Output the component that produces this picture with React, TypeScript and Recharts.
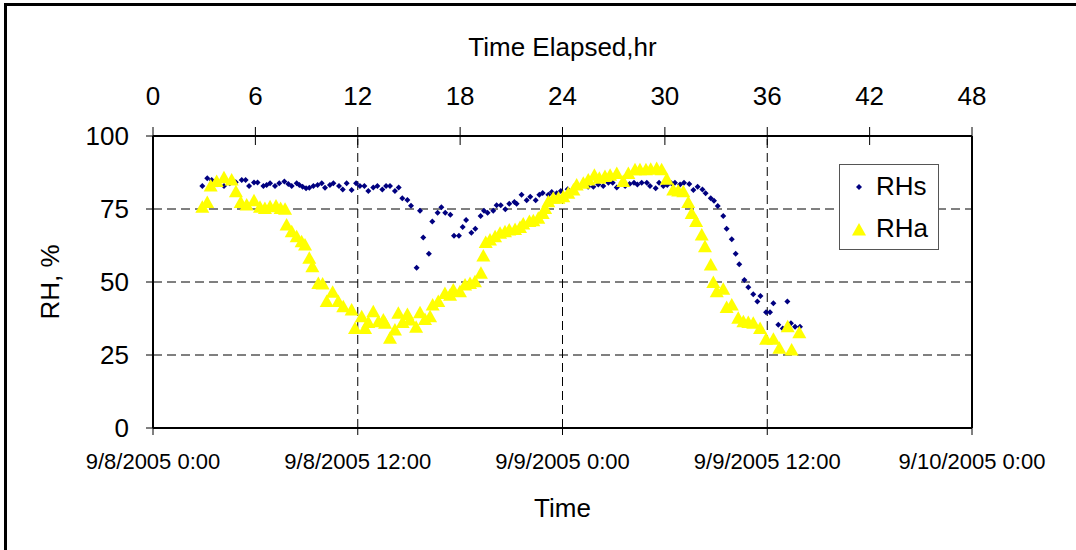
import React from 'react';
import { ScatterChart, Scatter, XAxis, YAxis, ReferenceLine, Legend, Label } from 'recharts';

const FONT = '"Liberation Sans", Arial, sans-serif';

// axis ticks and labels
const elapsedTicks = [0, 6, 12, 18, 24, 30, 36, 42, 48];
const dateTicks = [0, 12, 24, 36, 48];
const dateLabels = ['9/8/2005 0:00', '9/8/2005 12:00', '9/9/2005 0:00', '9/9/2005 12:00', '9/10/2005 0:00'];
const rhTicks = [0, 25, 50, 75, 100];
const gridHours = [12, 24, 36];
const gridRh = [25, 50, 75];
const seriesNames = ['RHs', 'RHa'];

// RHs series (hours elapsed, %)
const rhsHours = [
  2.89, 3.18, 3.44, 3.75, 4.16, 4.5, 4.85, 5.2, 5.43, 5.63, 5.92, 6.13, 6.47, 6.66, 6.86, 7.15,
  7.4, 7.7, 7.93, 8.13, 8.42, 8.58, 8.77, 8.97, 9.16, 9.4, 9.65, 9.89, 10.08, 10.37, 10.57, 10.9,
  11.12, 11.35, 11.64, 11.9, 12.13, 12.39, 12.62, 12.91, 13.15, 13.44, 13.66, 13.89, 14.18, 14.4,
  14.61, 14.91, 15.12, 15.45, 15.65, 15.84, 16.17, 16.37, 16.68, 16.9, 17.13, 17.43, 17.64, 17.93,
  18.15, 18.35, 18.66, 18.89, 19.2, 19.4, 19.61, 19.94, 20.14, 20.38, 20.65, 20.88, 21.18, 21.31,
  21.6, 21.9, 22.11, 22.43, 22.64, 22.84, 23.17, 23.37, 23.66, 23.9, 24.3, 24.7, 25.1, 25.5,
  25.81, 26.1, 26.39, 26.69, 26.94, 27.18, 27.47, 27.67, 27.93, 28.19, 28.39, 28.64, 28.94, 29.13,
  29.46, 29.66, 29.91, 30.14, 30.38, 30.59, 30.89, 31.12, 31.43, 31.67, 31.92, 32.2, 32.39, 32.69,
  32.88, 33.1, 33.42, 33.62, 33.92, 34.15, 34.36, 34.66, 34.89, 35.18, 35.42, 35.6, 35.93, 36.16,
  36.36, 36.65, 36.91, 37.18, 37.39, 37.63, 37.92,
];
const rhsValues = [
  82.9, 85.5, 84.9, 83.5, 82.9, 83.8, 84.2, 84.9, 84.9, 82.9, 84.1, 84.1, 82.9, 83.2, 83.8, 82.9,
  83.8, 84.4, 83.6, 82.9, 83.8, 83.2, 82.6, 82.1, 82.3, 82.9, 83.2, 83.8, 82.3, 83.2, 83.8, 82.9,
  81.7, 83.8, 81.5, 83.8, 82.9, 82.9, 81.2, 82.4, 82.9, 81.7, 82.9, 82.9, 81.2, 82.4,
  78.7, 78.1, 76.1, 54.9, 74.4, 65.2, 59.7, 70.7, 73.7, 75.6, 73.7, 73.0, 65.8, 65.8,
  68.8, 71.2, 66.9, 68.2, 72.6, 74.4, 73.7, 74.4, 76.3, 76.3, 74.9, 76.8, 77.4, 76.8,
  79.9, 78.0, 79.2, 78.0, 79.9, 80.5, 79.9, 80.8, 80.4, 81.2, 81.8, 82.4, 83.0, 82.6,
  82.6, 83.4, 82.9, 84.0, 84.0, 82.4, 84.0, 82.9, 83.6, 84.0, 83.4, 84.0, 84.0, 82.9,
  82.1, 84.0, 82.9, 83.2, 83.8, 84.0, 83.4, 84.0, 83.6, 81.5, 82.6, 81.7, 80.4, 78.7,
  77.8, 76.0, 72.6, 68.2, 64.6, 59.7, 56.1, 50.7, 48.2, 45.8, 43.3, 45.2, 39.6, 39.6,
  42.7, 35.4, 34.1, 43.3, 35.9, 34.7, 34.7,
];

// RHa series (hours elapsed, %)
const rhaHours = [
  2.89, 3.18, 3.38, 3.73, 4.16, 4.61, 4.86, 5.14, 5.49, 5.92, 6.27, 6.56, 6.86, 7.21, 7.48, 7.74,
  7.83, 8.13, 8.42, 8.71, 8.91, 9.16, 9.34, 9.69, 9.94, 10.18, 10.53, 10.86, 11.15, 11.64, 11.84,
  12.23, 12.43, 12.62, 12.91, 13.21, 13.5, 13.6, 13.89, 14.18, 14.38, 14.63, 14.91, 15.06, 15.42,
  15.65, 15.94, 16.24, 16.39, 16.72, 17.11, 17.41, 17.6, 17.99, 18.29, 18.58, 18.87, 19.22, 19.36,
  19.5, 19.75, 20.05, 20.34, 20.63, 20.88, 21.22, 21.51, 21.7, 22.06, 22.29, 22.58, 22.84, 22.98,
  23.17, 23.46, 23.76, 24.05, 24.34, 24.64, 24.83, 25.22, 25.51, 25.87, 26.16, 26.49, 26.79, 27.18,
  27.56, 27.86, 28.25, 28.54, 28.89, 29.17, 29.52, 29.81, 30.11, 30.49, 30.78, 31.08, 31.37, 31.57,
  31.83, 32.16, 32.35, 32.69, 32.84, 33.04, 33.42, 33.62, 33.92, 34.3, 34.6, 34.89, 35.18, 35.58,
  35.93, 36.36, 36.71, 37.2, 37.43, 37.88,
];
const rhaValues = [
  75.6, 77.2, 82.9, 84.4, 85.7, 84.9, 80.9, 77.2, 76.4, 77.8, 75.6, 75.2, 75.8, 76.0, 75.2, 74.9,
  69.5, 67.2, 65.5, 63.8, 62.7, 58.1, 55.2, 49.5, 49.3, 43.3, 46.5, 43.3, 41.5, 40.4, 34.1,
  38.1, 34.1, 36.1, 39.8, 36.4, 37.0, 35.9, 30.7, 33.6, 39.3, 36.1, 38.9, 37.0, 34.5,
  39.5, 37.2, 38.1, 42.1, 43.3, 46.1, 45.5, 47.3, 46.7, 49.0, 49.5, 50.1, 53.0, 58.9,
  63.5, 64.4, 65.5, 66.7, 67.2, 67.8, 68.0, 68.7, 69.9, 70.7, 71.0, 71.8, 73.5, 75.2,
  77.5, 78.7, 78.7, 79.2, 80.4, 81.5, 83.2, 83.8, 84.9, 86.6, 85.5, 86.1, 86.6, 87.2,
  84.4, 87.2, 88.4, 88.4, 88.4, 88.6, 88.9, 88.4, 85.2, 81.5, 81.2, 80.9, 77.2, 73.5,
  70.7, 66.1, 62.1, 55.8, 49.8, 46.7, 47.5, 41.3, 42.1, 37.6, 36.4, 36.1, 35.9, 34.1,
  30.4, 30.4, 27.3, 34.7, 26.7, 32.6,
];

const rhsData = rhsHours.map((h, i) => ({ h, v: rhsValues[i] }));
const rhaData = rhaHours.map((h, i) => ({ h, v: rhaValues[i] }));

const NAVY = '#000080';
const YELLOW = '#FFFF00';

const Diamond = (props: any) => {
  const { cx, cy } = props;
  const r = 3;
  return <polygon points={`${cx},${cy - r} ${cx + r},${cy} ${cx},${cy + r} ${cx - r},${cy}`} fill={NAVY} />;
};

const Triangle = (props: any) => {
  const { cx, cy } = props;
  return <polygon points={`${cx},${cy - 7} ${cx + 7},${cy + 5.5} ${cx - 7},${cy + 5.5}`} fill={YELLOW} />;
};

// top axis: label plus a tick that crosses into the plot
const TOP_TICK = 9;
const TOP_MARGIN = 22;
const TopTick = (props: any) => {
  const { x, y, payload } = props;
  const axisY = y + TOP_TICK + TOP_MARGIN;
  return (
    <g>
      <line x1={x} x2={x} y1={axisY} y2={axisY + TOP_TICK} stroke="#000" />
      <text x={x} y={y} textAnchor="middle" fontSize={26} fontFamily={FONT} fill="#000">
        {payload.value}
      </text>
    </g>
  );
};

const LegendBox = (props: any) => {
  const payload = [...(props.payload || [])].sort(
    (a: any, b: any) => seriesNames.indexOf(a.value) - seriesNames.indexOf(b.value),
  );
  return (
    <div
      style={{
        width: 98,
        height: 84,
        border: '1px solid #555',
        background: '#fff',
        fontFamily: FONT,
        fontSize: 26,
        color: '#000',
      }}
    >
      {payload.map((entry: any) => (
        <div key={entry.value} style={{ display: 'flex', alignItems: 'center', height: 42 }}>
          <svg width={36} height={42}>
            {entry.value === 'RHs' ? <Diamond cx={19} cy={22} /> : <Triangle cx={19} cy={23} />}
          </svg>
          <span>{entry.value}</span>
        </div>
      ))}
    </div>
  );
};

const YTitle = (props: any) => {
  const { viewBox } = props;
  const x = viewBox.x + 50;
  const y = viewBox.y + viewBox.height / 2;
  return (
    <text
      x={x}
      y={y}
      transform={`rotate(-90, ${x}, ${y})`}
      textAnchor="middle"
      dominantBaseline="central"
      fontSize={26}
      fontFamily={FONT}
      fill="#000"
    >
      RH, %
    </text>
  );
};

export default function App() {
  return (
    <div style={{ position: 'absolute', left: 0, top: 0, width: 1076, height: 550, overflow: 'hidden', background: '#fff' }}>
      <div
        style={{
          position: 'absolute',
          left: 4,
          top: 3,
          width: 1200,
          height: 700,
          borderTop: '3px solid #000',
          borderLeft: '3px solid #000',
        }}
      />
      <div style={{ position: 'absolute', left: 0, top: 0 }}>
        <ScatterChart width={1076} height={550} margin={{ top: 0, right: 104, bottom: 0, left: 0 }}>
          <XAxis
            xAxisId="top"
            orientation="top"
            type="number"
            dataKey="h"
            domain={[0, 48]}
            ticks={elapsedTicks}
            height={136}
            allowDataOverflow
            axisLine={{ stroke: '#000', strokeWidth: 2 }}
            tickLine={{ stroke: '#000' }}
            tickSize={TOP_TICK}
            tickMargin={TOP_MARGIN}
            tick={<TopTick />}
          >
            <Label value="Time Elapsed,hr" position="insideTop" offset={38} fontSize={26} fontFamily={FONT} fill="#000" />
          </XAxis>
          <XAxis
            xAxisId="bottom"
            orientation="bottom"
            type="number"
            dataKey="h"
            domain={[0, 48]}
            ticks={dateTicks}
            height={122}
            allowDataOverflow
            tickFormatter={(v: number) => dateLabels[dateTicks.indexOf(v)]}
            axisLine={{ stroke: '#000', strokeWidth: 2 }}
            tickLine={{ stroke: '#000' }}
            tickSize={7}
            tickMargin={18}
            tick={{ fontSize: 22, fontFamily: FONT, fill: '#000' }}
            interval={0}
          >
            <Label value="Time" position="insideBottom" offset={33} fontSize={26} fontFamily={FONT} fill="#000" />
          </XAxis>
          <YAxis
            type="number"
            dataKey="v"
            domain={[0, 100]}
            ticks={rhTicks}
            width={153}
            interval={0}
            axisLine={{ stroke: '#000', strokeWidth: 2 }}
            tickLine={{ stroke: '#000' }}
            tickSize={7}
            tickMargin={17}
            tick={{ fontSize: 26, fontFamily: FONT, fill: '#000' }}
          >
            <Label content={<YTitle />} />
          </YAxis>
          {gridRh.map((v) => (
            <ReferenceLine key={`y${v}`} xAxisId="bottom" y={v} stroke="#000" strokeDasharray="9 5" />
          ))}
          {gridHours.map((h) => (
            <ReferenceLine key={`x${h}`} xAxisId="bottom" x={h} stroke="#000" strokeDasharray="9 5" />
          ))}
          <ReferenceLine xAxisId="bottom" x={48} stroke="#000" strokeWidth={2} />
          <Legend
            layout="vertical"
            align="center"
            verticalAlign="middle"
            content={<LegendBox />}
            wrapperStyle={{ left: 839, top: 164, width: 100 }}
          />
          <Scatter name="RHs" xAxisId="top" data={rhsData} fill={NAVY} shape={<Diamond />} isAnimationActive={false} />
          <Scatter name="RHa" xAxisId="bottom" data={rhaData} fill={YELLOW} shape={<Triangle />} isAnimationActive={false} />
        </ScatterChart>
      </div>
    </div>
  );
}
